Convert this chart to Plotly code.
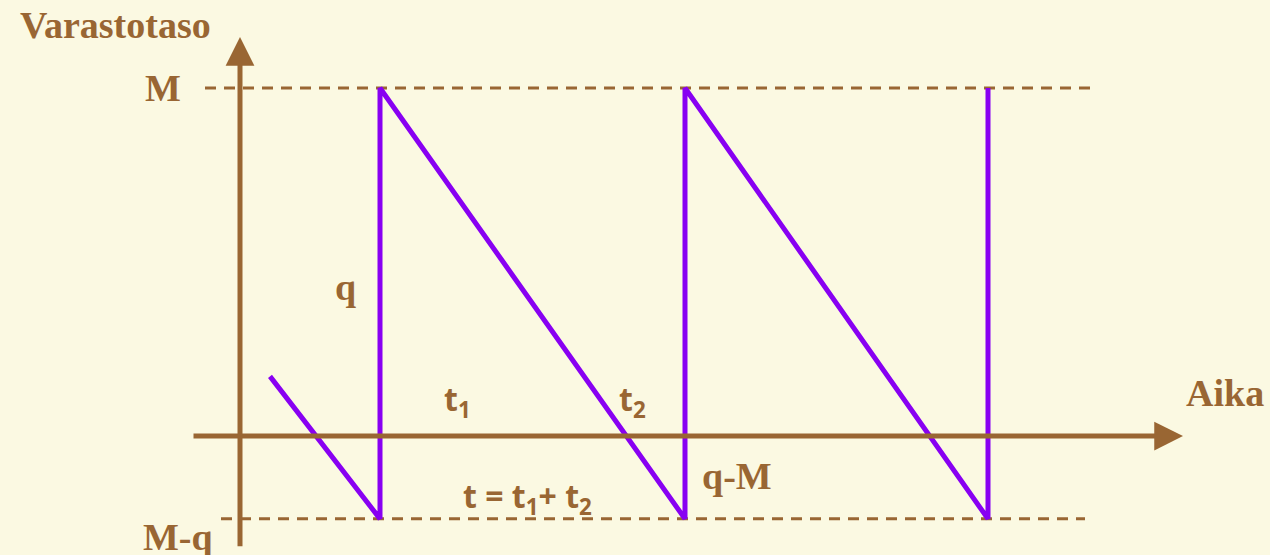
import plotly.graph_objects as go

# --- data (conceptual units: time, inventory level) ---
M = 4.2
q = 5.2
MQ = M - q  # -1.0
t_vals = [0.3, 1.4, 1.4, 4.45, 4.45, 7.48, 7.48]
level_vals = [0.72, MQ, M, MQ, M, MQ, M]

dash_M_x = [-0.35, 8.55]
dash_MQ_x = [-0.19, 8.45]
xaxis_span = [-0.48, 9.43]
yaxis_span = [-1.35, 4.815]

BG = "#FBF9E2"
BROWN = "#996633"
PURPLE = "#8800F2"
SERIF = "Liberation Serif"
SANS = "Noto Sans"

fig = go.Figure()

# dashed reference lines
fig.add_trace(go.Scatter(x=dash_M_x, y=[M, M], mode="lines",
                         line=dict(color=BROWN, width=3, dash="11px,8px"),
                         hoverinfo="skip", showlegend=False))
fig.add_trace(go.Scatter(x=dash_MQ_x, y=[MQ, MQ], mode="lines",
                         line=dict(color=BROWN, width=3, dash="11px,8px"),
                         hoverinfo="skip", showlegend=False))

# axes with arrows
fig.add_annotation(x=xaxis_span[1], y=0, ax=xaxis_span[0], ay=0,
                   xref="x", yref="y", axref="x", ayref="y",
                   text="", showarrow=True, arrowhead=2, arrowsize=1.15,
                   arrowwidth=5, arrowcolor=BROWN)
fig.add_annotation(x=0, y=yaxis_span[1], ax=0, ay=yaxis_span[0],
                   xref="x", yref="y", axref="x", ayref="y",
                   text="", showarrow=True, arrowhead=2, arrowsize=1.15,
                   arrowwidth=5, arrowcolor=BROWN)

# sawtooth inventory line
fig.add_trace(go.Scatter(x=t_vals, y=level_vals, mode="lines",
                         line=dict(color=PURPLE, width=5),
                         hoverinfo="skip", showlegend=False))

def label(text, x, y, font=SERIF, size=38):
    fig.add_annotation(x=x, y=y, xref="x", yref="y", text=text, showarrow=False,
                       font=dict(family=font, size=size, color=BROWN),
                       xanchor="center", yanchor="middle")

label("<b>Varastotaso</b>", -1.25, 4.96)
label("<b>M</b>", -0.77, 4.2)
label("<b>M-q</b>", -0.62, -1.22)
label("<b>q</b>", 1.05, 1.8)
label("<b>q-M</b>", 4.97, -0.48)
label("<b>Aika</b>", 9.85, 0.52)
label("<b>t<sub>1</sub></b>", 2.17, 0.42, font=SANS, size=32)
label("<b>t<sub>2</sub></b>", 3.92, 0.42, font=SANS, size=32)
label("<b>t = t<sub>1</sub>+ t<sub>2</sub></b>", 2.87, -0.75, font=SANS, size=32)

fig.update_layout(
    width=1270, height=555,
    margin=dict(l=0, r=0, t=0, b=0),
    paper_bgcolor=BG, plot_bgcolor=BG,
    xaxis=dict(range=[-2.4, 10.3], visible=False, fixedrange=True),
    yaxis=dict(range=[-1.436, 5.262], visible=False, fixedrange=True),
    showlegend=False,
)

fig.write_html("out.html",
               config={"displayModeBar": False, "staticPlot": True},
               post_script="document.body.style.margin='0px';document.body.style.overflow='hidden';")
